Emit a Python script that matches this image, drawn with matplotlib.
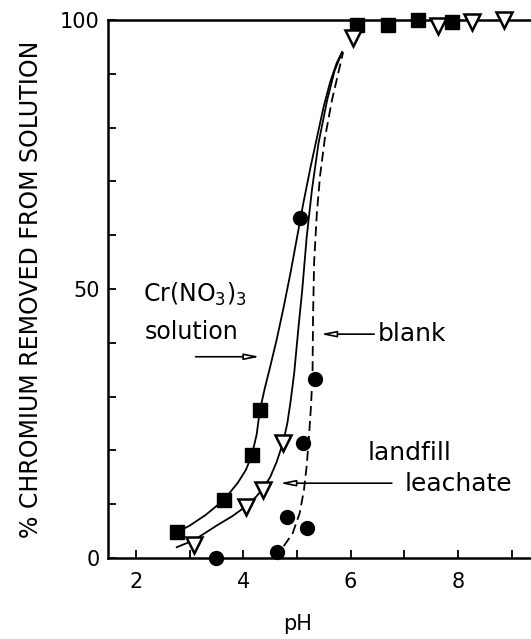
import numpy as np
import matplotlib.pyplot as plt
from matplotlib.ticker import MultipleLocator, FixedLocator

plt.rcParams['font.family'] = 'DejaVu Sans'

# Cr(NO3)3 solution (filled squares)
cr_ph = [2.76, 3.64, 4.16, 4.31, 6.12, 6.69, 7.25, 7.88]
cr_pct = [4.8, 10.8, 19.1, 27.5, 99.1, 99.1, 100.0, 99.6]

# landfill leachate (open triangles)
lf_ph = [3.08, 4.05, 4.37, 4.74, 6.04, 7.62, 8.26, 8.85]
lf_pct = [2.4, 9.5, 12.6, 21.4, 96.7, 98.9, 99.6, 100.0]

# blank (filled circles)
bl_ph = [3.49, 4.63, 4.81, 5.18, 5.11, 5.33, 5.05]
bl_pct = [0.0, 1.1, 7.6, 5.6, 21.4, 33.3, 63.2]

# hand drawn curves
cr_curve_x = [2.76, 3.0, 3.3, 3.64, 3.9, 4.05, 4.16, 4.25, 4.31, 4.4, 4.5, 4.62, 4.75, 4.88,
              5.0, 5.12, 5.25, 5.38, 5.5, 5.62, 5.74, 5.84]
cr_curve_y = [4.8, 6.0, 8.0, 10.8, 14.0, 16.4, 19.1, 23.0, 27.5, 31.5, 35.5, 40.5, 46.5, 53.0,
              59.5, 66.0, 72.5, 78.5, 84.0, 88.5, 92.0, 94.0]
lf_curve_x = [2.76, 3.08, 3.5, 3.8, 4.05, 4.25, 4.37, 4.5, 4.62, 4.74, 4.82, 4.88, 4.95, 5.02,
              5.1, 5.18, 5.28, 5.4, 5.56, 5.7, 5.84]
lf_curve_y = [2.0, 3.3, 6.0, 7.8, 9.6, 11.5, 13.0, 15.0, 17.8, 21.4, 25.0, 29.0, 34.5, 42.0,
              50.0, 59.5, 68.5, 77.0, 85.0, 90.5, 94.0]
bl_curve_x = [4.55, 4.74, 4.92, 5.05, 5.13, 5.18, 5.22, 5.26, 5.29, 5.3, 5.32, 5.37, 5.43,
              5.52, 5.65, 5.86]
bl_curve_y = [0.3, 2.0, 4.6, 8.3, 12.6, 17.0, 22.0, 28.0, 34.0, 45.0, 55.0, 64.0, 71.0,
              78.0, 85.0, 94.0]

fig = plt.figure(figsize=(5.31, 6.39), dpi=100)
ax = fig.add_axes([0.2034, 0.1268, 0.7966, 0.8420])

ax.plot(cr_curve_x, cr_curve_y, color='black', lw=1.3)
ax.plot(lf_curve_x, lf_curve_y, color='black', lw=1.3)
ax.plot(bl_curve_x, bl_curve_y, color='black', lw=1.3, dashes=(5.5, 2.8))

ax.plot(cr_ph, cr_pct, 's', color='black', ms=10, clip_on=False, zorder=5)
ax.plot(lf_ph, lf_pct, 'v', mfc='white', mec='black', mew=1.8, ms=12, clip_on=False, zorder=5)
ax.plot(bl_ph, bl_pct, 'o', color='black', ms=10, clip_on=False, zorder=5)

ax.set_xlim(1.48, 9.36)
ax.set_ylim(0, 100)

ax.spines['right'].set_visible(False)
for s in ['left', 'bottom', 'top']:
    ax.spines[s].set_linewidth(1.8)

ax.xaxis.set_major_locator(FixedLocator([2, 4, 6, 8]))
ax.xaxis.set_minor_locator(FixedLocator([3, 5, 7, 9]))
ax.yaxis.set_major_locator(FixedLocator([0, 50, 100]))
ax.yaxis.set_minor_locator(MultipleLocator(10))
ax.tick_params(which='both', direction='in', length=6, width=1.3, labelsize=15,
               top=False, right=False)
ax.tick_params(axis='x', pad=10)
ax.tick_params(axis='y', pad=6)

ax.set_xlabel('pH', fontsize=15)
ax.xaxis.set_label_coords(0.447, -0.105)
ax.set_ylabel('% CHROMIUM REMOVED FROM SOLUTION', fontsize=17, labelpad=12)

# labels with arrows
arrow = dict(arrowstyle='-|>,head_length=0.9,head_width=0.18', fc='white', ec='black', lw=1.2)
ax.text(2.13, 49, r'Cr(NO$_3$)$_3$', fontsize=17, va='center', ha='left')
ax.text(2.17, 42, 'solution', fontsize=17, va='center', ha='left')
ax.annotate('', xy=(4.36, 37.4), xytext=(3.06, 37.4), arrowprops=arrow)

ax.text(6.5, 41.6, 'blank', fontsize=18, va='center', ha='left')
ax.annotate('', xy=(5.39, 41.6), xytext=(6.49, 41.6), arrowprops=arrow)

ax.text(6.32, 19.6, 'landfill', fontsize=18, va='center', ha='left')
ax.text(7.0, 13.7, 'leachate', fontsize=18, va='center', ha='left')
ax.annotate('', xy=(4.63, 13.9), xytext=(6.82, 13.9), arrowprops=arrow)

fig.savefig('out.png', dpi=100)
